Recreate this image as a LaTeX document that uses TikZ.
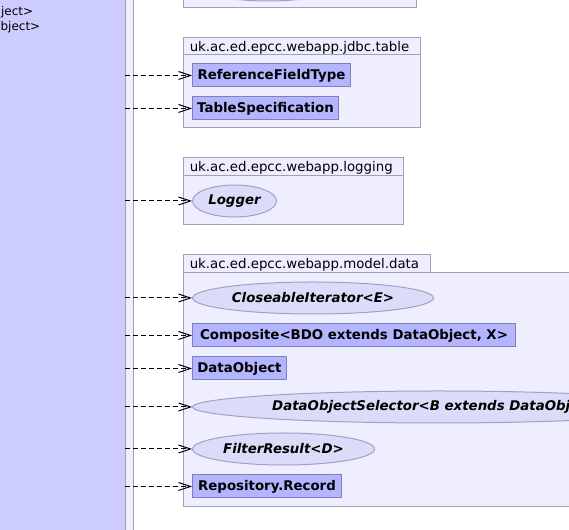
\documentclass[tikz,border=0pt]{standalone}
\usepackage{fontspec}
\setmainfont{DejaVu Sans}
\usetikzlibrary{shapes.geometric,arrows.meta}
\definecolor{libfill}{HTML}{CCCCFF}
\definecolor{pkgfill}{HTML}{EEEEFF}
\definecolor{pkgline}{HTML}{A0A0B8}
\definecolor{clsfill}{HTML}{B4B4FF}
\definecolor{clsline}{HTML}{8080B8}
\definecolor{intfill}{HTML}{DCDCFA}
\definecolor{intline}{HTML}{A0A0C4}
\tikzset{
  pkg/.style={draw=pkgline,fill=pkgfill,line width=0.75pt},
  pkglabel/.style={anchor=base west,inner sep=0pt,font=\fontsize{10}{12}\selectfont},
  libtext/.style={anchor=base west,inner sep=0pt,font=\fontsize{9}{11}\selectfont},
  cls/.style={rectangle,draw=clsline,fill=clsfill,line width=0.75pt,anchor=west,
    minimum height=17.25pt,inner sep=0pt,font=\fontsize{10}{12}\selectfont\bfseries},
  intf/.style={ellipse,draw=intline,fill=intfill,line width=0.75pt,anchor=west,
    minimum height=24pt,inner sep=0pt,font=\fontsize{10}{12}\selectfont\bfseries\itshape},
  dep/.style={draw=black,line width=0.75pt,dash pattern=on 3.75pt off 2.25pt,
    -{Straight Barb[length=9pt,width=6pt]}},
}
\begin{document}
\begin{tikzpicture}[x=0.75pt,y=-0.75pt]
\useasboundingbox (0,0) rectangle (569,530);
\clip (0,0) rectangle (569,530);
% left library box and strip
\draw[fill=libfill,draw=pkgline,line width=0.75pt] (-10,-10) rectangle (125,540);
\node[draw=pkgline,fill=pkgfill,line width=0.75pt,rectangle,inner sep=0pt,
  minimum width=6pt,minimum height=420pt,anchor=north west] (lib) at (125,-10) {};
\node[libtext] (lt1) at (0.8,15.5) {ject>};
\node[libtext] (lt2) at (0.3,30.5) {bject>};
% top package (partial)
\draw[pkg] (183,-10) rectangle (416,8);
\node[ellipse,draw=intline,fill=intfill,line width=0.75pt,minimum width=109.5pt,minimum height=24pt,inner sep=0pt] (topint) at (268,-15) {};
% jdbc.table package
\draw[pkg] (183,38) rectangle (420,55);
\draw[pkg] (183,55) rectangle (420,128);
\node[pkglabel] (p1) at (189.5,51.5) {uk.ac.ed.epcc.webapp.jdbc.table};
% logging package
\draw[pkg] (183,158) rectangle (403,176);
\draw[pkg] (183,176) rectangle (403,225);
\node[pkglabel] (p2) at (189.5,171.5) {uk.ac.ed.epcc.webapp.logging};
% model.data package
\draw[pkg] (183,255) rectangle (430,273);
\draw[pkg] (183,273) rectangle (600,507);
\node[pkglabel] (p3) at (189.5,268.5) {uk.ac.ed.epcc.webapp.model.data};
% classes and interfaces
\node[cls,minimum width=118.5pt] (rft) at (192,75.5) {ReferenceFieldType};
\node[cls,minimum width=109.5pt] (ts) at (192,108.5) {TableSpecification};
\node[intf,minimum width=63pt] (log) at (192,201) {Logger};
\node[intf,minimum width=180.75pt] (ci) at (192,298) {CloseableIterator<E>};
\node[cls,minimum width=242.25pt] (comp) at (192,335.5) {Composite<BDO extends DataObject, X>};
\node[cls,minimum width=70.5pt] (dobj) at (192,368.5) {DataObject};
\node[intf,minimum width=369pt] (dos) at (192,407) {DataObjectSelector<B extends DataObject>};
\node[intf,minimum width=136.5pt] (fr) at (192,449) {FilterResult<D>};
\node[cls,minimum width=111.75pt] (rec) at (192,486.5) {Repository.Record};
% dependencies
\foreach \t in {rft,ts,log,ci,comp,dobj,dos,fr,rec}{
  \draw[dep] (\t.west -| lib.west) -- (\t.west);
}
\end{tikzpicture}
\end{document}
